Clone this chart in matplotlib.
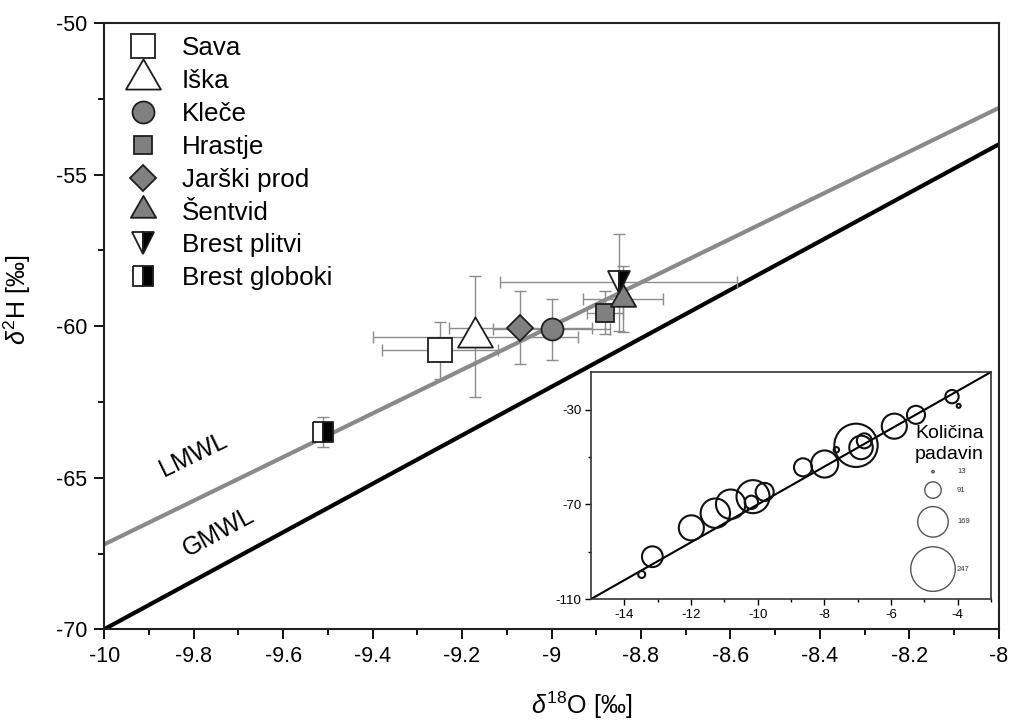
import numpy as np
import matplotlib
matplotlib.use('Agg')
import matplotlib.pyplot as plt
from matplotlib.path import Path

plt.rcParams['font.family'] = ['Liberation Sans', 'DejaVu Sans']
plt.rcParams['mathtext.fontset'] = 'custom'
plt.rcParams['mathtext.rm'] = 'Liberation Sans'
plt.rcParams['mathtext.it'] = 'Liberation Sans:italic'
plt.rcParams['axes.unicode_minus'] = False

# sampling sites: d18O, d2H and their errors
sites = ['Sava', 'Iška', 'Kleče', 'Hrastje', 'Jarški prod', 'Šentvid', 'Brest plitvi', 'Brest globoki']
d18o = [-9.25, -9.17, -9.00, -8.88, -9.07, -8.84, -8.85, -9.51]
d2h = [-60.8, -60.35, -60.1, -59.55, -60.05, -59.1, -58.55, -63.5]
d18o_err = [0.13, 0.23, 0.13, 0.04, 0.16, 0.09, 0.265, 0.0]
d2h_err = [0.95, 2.0, 1.0, 0.7, 1.2, 1.1, 1.6, 0.5]

# meteoric water lines (slope, intercept)
lmwl = (7.2, 4.8)
gmwl = (8.0, 10.0)

# precipitation samples for the inset
rain_d18o = [-13.48, -13.16, -11.99, -11.27, -10.81, -10.14, -10.19, -9.79, -8.64,
             -7.99, -7.64, -7.05, -6.90, -6.80, -5.90, -5.25, -4.17, -3.97]
rain_d2h = [-99.6, -92.1, -79.9, -73.7, -69.9, -66.7, -69.1, -64.7, -54.3,
            -52.9, -46.9, -45.0, -45.9, -43.1, -36.9, -32.1, -24.4, -28.3]
rain_amount = [39, 115, 139, 163, 163, 183, 74, 100, 100,
               150, 30, 240, 130, 83, 139, 100, 74, 22]
legend_amounts = [13, 91, 169, 247]

# custom triangle centred on its centroid (like Origin)
tri = Path([(0, 1.1547), (-1, -0.5774), (1, -0.5774), (0, 1.1547)],
           [Path.MOVETO, Path.LINETO, Path.LINETO, Path.CLOSEPOLY])

grey = '#808080'
edge = '#1e1e1e'
styles = [
    dict(marker='s', ms=17.5, mfc='white'),
    dict(marker=tri, ms=29, mfc='white'),
    dict(marker='o', ms=15.8, mfc=grey),
    dict(marker='s', ms=13, mfc=grey),
    dict(marker='D', ms=13.7, mfc=grey),
    dict(marker=tri, ms=21, mfc=grey),
    dict(marker='v', ms=16.5, mfc='white', mfcalt='black', fillstyle='left'),
    dict(marker='s', ms=14, mfc='white', mfcalt='black', fillstyle='left'),
]

fig = plt.figure(figsize=(10.11, 7.2), dpi=100)
ax = fig.add_axes([0.103, 0.126, 0.885, 0.842])

xs = np.array([-10, -8])
ax.plot(xs, lmwl[0] * xs + lmwl[1], color='#8a8a8a', lw=3.0, zorder=2)
ax.plot(xs, gmwl[0] * xs + gmwl[1], color='black', lw=3.0, zorder=2)

ax.errorbar(d18o, d2h, xerr=d18o_err, yerr=d2h_err, fmt='none', ecolor='#8c8c8c',
            elinewidth=1.0, capsize=4, capthick=1.0, zorder=3)

handles = []
for i, name in enumerate(sites):
    st = styles[i]
    h, = ax.plot(d18o[i], d2h[i], linestyle='none', marker=st['marker'], markersize=st['ms'],
                 markerfacecolor=st['mfc'], markerfacecoloralt=st.get('mfcalt', 'none'),
                 fillstyle=st.get('fillstyle', 'full'), markeredgecolor=edge,
                 markeredgewidth=1.3, label=name, zorder=4)
    handles.append(h)

ax.text(-9.80, -64.25, 'LMWL', rotation=26, fontsize=18, ha='center', va='center')
ax.text(-9.745, -66.8, 'GMWL', rotation=28.5, fontsize=18, ha='center', va='center')

ax.set_xlim(-10, -8)
ax.set_ylim(-70, -50)
ax.set_xticks(np.arange(-10, -7.99, 0.2))
ax.set_xticklabels(['-10', '-9.8', '-9.6', '-9.4', '-9.2', '-9', '-8.8', '-8.6', '-8.4', '-8.2', '-8'])
ax.set_xticks(np.arange(-9.9, -8, 0.2), minor=True)
ax.set_yticks([-70, -65, -60, -55, -50])
ax.set_yticks([-67.5, -62.5, -57.5, -52.5], minor=True)
ax.tick_params(which='major', direction='out', length=7, width=1.3, labelsize=15.5, pad=5)
ax.tick_params(which='minor', direction='out', length=4, width=1.3)
for sp in ax.spines.values():
    sp.set_linewidth(1.5)
    sp.set_color('#222222')

ax.set_xlabel(r'$\delta^{18}$O [‰]', fontsize=18)
ax.set_ylabel(r'$\delta^{2}$H [‰]', fontsize=18)
ax.xaxis.set_label_coords(0.534, -0.10)
ax.yaxis.set_label_coords(-0.080, 0.543)

ax.legend(handles=handles, loc='upper left', bbox_to_anchor=(0.014, 0.978), frameon=False,
          fontsize=18.7, borderpad=0, labelspacing=0.34, handlelength=2.0,
          handletextpad=0.5, borderaxespad=0)

# inset with precipitation samples
ins = fig.add_axes([0.5846, 0.168, 0.3956, 0.3153])
ins.set_facecolor('white')
xi = np.array([-15, -3])
ins.plot(xi, gmwl[0] * xi + gmwl[1], color='black', lw=1.5, zorder=2)
sizes = (0.13 * np.array(rain_amount)) ** 2
ins.scatter(rain_d18o, rain_d2h, s=sizes, facecolors='none', edgecolors='#111111',
            linewidths=1.5, zorder=3)
ins.set_xlim(-15, -3)
ins.set_ylim(-110, -14)
ins.set_xticks([-14, -12, -10, -8, -6, -4])
ins.set_xticks([-13, -11, -9, -7, -5, -3], minor=True)
ins.set_yticks([-110, -70, -30])
ins.set_yticks([-90, -50], minor=True)
ins.tick_params(which='major', direction='out', length=4, width=1, labelsize=9.5, pad=3)
ins.tick_params(which='minor', direction='out', length=2.5, width=1)
for sp in ins.spines.values():
    sp.set_linewidth(1.2)
    sp.set_color('#333333')

ins.text(0.896, 0.683, 'Količina\npadavin', transform=ins.transAxes, fontsize=14,
         ha='center', va='center', linespacing=1.25, zorder=5)
leg_y = [0.561, 0.480, 0.340, 0.132]
ins.scatter([0.855] * 4, leg_y, s=(0.13 * np.array(legend_amounts)) ** 2,
            facecolors='none', edgecolors='#555555', linewidths=1.0,
            transform=ins.transAxes, zorder=5)
for a, yy in zip(legend_amounts, leg_y):
    ins.text(0.915, yy, str(a), transform=ins.transAxes, fontsize=5.5,
             ha='left', va='center', color='#333333')

fig.savefig('out.png', dpi=100)
